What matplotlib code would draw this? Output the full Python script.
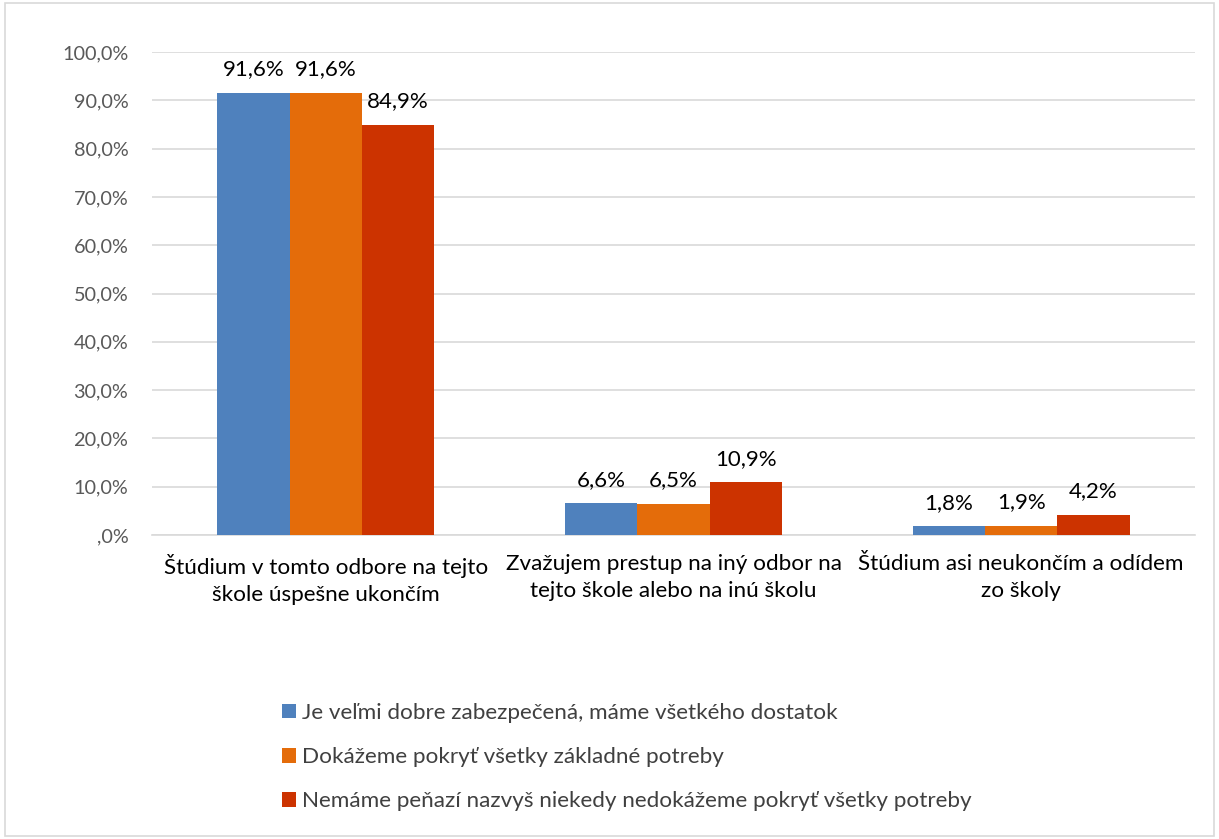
import numpy as np
import matplotlib.pyplot as plt
from matplotlib.patches import Rectangle

plt.rcParams['font.family'] = ['Lato', 'DejaVu Sans']

categories = [
    "Štúdium v tomto odbore na tejto\nškole úspešne ukončím",
    "Zvažujem prestup na iný odbor na\ntejto škole alebo na inú školu",
    "Štúdium asi neukončím a odídem\nzo školy",
]
series_names = [
    "Je veľmi dobre zabezpečená, máme všetkého dostatok",
    "Dokážeme pokryť všetky základné potreby",
    "Nemáme peňazí nazvyš niekedy nedokážeme pokryť všetky potreby",
]
values_good = [91.6, 6.6, 1.8]
values_basic = [91.6, 6.5, 1.9]
values_poor = [84.9, 10.9, 4.2]
colors = ["#4F81BD", "#E46C0A", "#CC3300"]

yticks = np.arange(0, 101, 10)
ytick_labels = [",0%"] + ["%d,0%%" % v for v in yticks[1:]]


def fmt(v):
    return ("%.1f%%" % v).replace(".", ",")


fig = plt.figure(figsize=(12.19, 8.39), dpi=100)
ax = fig.add_axes([152 / 1219, 1 - 535 / 839, (1195 - 152) / 1219, (535 - 52) / 839])

x = np.arange(len(categories))
w = 0.208
all_series = [values_good, values_basic, values_poor]
for i, (vals, c, name) in enumerate(zip(all_series, colors, series_names)):
    pos = x + (i - 1) * w
    ax.bar(pos, vals, width=w, color=c, label=name, zorder=3)
    for p, v in zip(pos, vals):
        ax.text(p, v + 2.8, fmt(v), ha="center", va="bottom", fontsize=16, color="#000000")

ax.set_xlim(-0.5, 2.5)
ax.set_ylim(0, 100)
ax.set_yticks(yticks)
ax.set_yticklabels(ytick_labels, fontsize=14.3, color="#595959")
ax.set_xticks(x)
ax.set_xticklabels(categories, fontsize=16.2, color="#000000", linespacing=1.4)
ax.tick_params(axis="x", length=0, pad=14)
ax.tick_params(axis="y", length=0, pad=17)
ax.grid(axis="y", color="#D9D9D9", linewidth=1.2, zorder=0)
for s in ["top", "right", "left"]:
    ax.spines[s].set_visible(False)
ax.spines["bottom"].set_color("#D9D9D9")
ax.spines["bottom"].set_linewidth(1.2)

leg = fig.legend(loc="upper left", bbox_to_anchor=(262 / 1219, 1 - 683 / 839),
                 frameon=False, fontsize=16.2, handlelength=0.6, handleheight=0.6,
                 handletextpad=0.3, labelspacing=1.07, labelcolor="#404040")

fig.patches.append(Rectangle((0.004, 0.004), 0.992, 0.992, transform=fig.transFigure,
                             fill=False, edgecolor="#D9D9D9", linewidth=1.2))

fig.savefig("out.png", dpi=100)
